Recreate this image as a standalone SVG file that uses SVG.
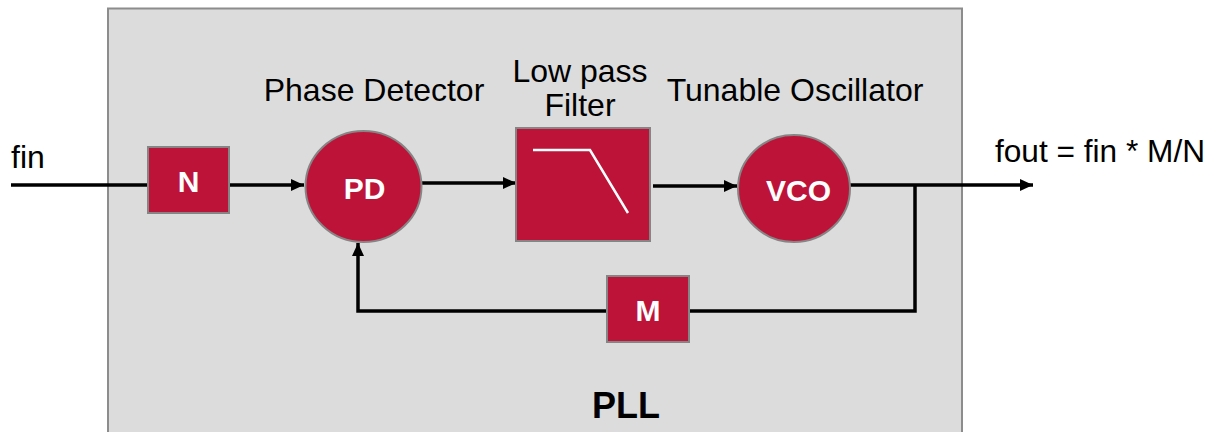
<svg xmlns="http://www.w3.org/2000/svg" width="1209" height="432" viewBox="0 0 1209 432">
<style>
.blk{fill:#be1338;stroke:#858585;stroke-width:2}
.lbl{font-family:"Liberation Sans",Arial,sans-serif;font-size:32px;fill:#000}
.in{font-family:"Liberation Sans",Arial,sans-serif;font-size:30px;font-weight:bold;fill:#fff;text-anchor:middle}
.wire{fill:none;stroke:#000;stroke-width:3.5}
</style>
<defs>
<marker id="ah" markerUnits="userSpaceOnUse" markerWidth="14" markerHeight="12" refX="13" refY="6" orient="auto">
<path d="M0,0 L13,6 L0,12 Z" fill="#000"/>
</marker>
</defs>
<rect id="pll-box" x="108" y="8.5" width="854" height="440" fill="#dcdcdc" stroke="#8c8c8c" stroke-width="2"/>
<text class="lbl" x="11" y="168">fin</text>
<text class="lbl" x="995" y="162" textLength="210" lengthAdjust="spacingAndGlyphs">fout = fin * M/N</text>
<text class="lbl" x="374" y="101" text-anchor="middle">Phase Detector</text>
<text class="lbl" x="580" y="82" text-anchor="middle">Low pass</text>
<text class="lbl" x="580" y="116" text-anchor="middle">Filter</text>
<text class="lbl" x="795" y="101" text-anchor="middle">Tunable Oscillator</text>
<text x="626" y="418" text-anchor="middle" style="font-family:'Liberation Sans',Arial,sans-serif;font-size:36px;font-weight:bold">PLL</text>
<g id="connectors">
<path class="wire" d="M11,185 H148"/>
<path class="wire" d="M229,185 H304" marker-end="url(#ah)"/>
<path class="wire" d="M422,183 H516" marker-end="url(#ah)"/>
<path class="wire" d="M653,186 H737" marker-end="url(#ah)"/>
<path class="wire" d="M850,185 H1033" marker-end="url(#ah)"/>
<path class="wire" d="M915,185 V311 H689"/>
<path class="wire" d="M607,311 H358 V243" marker-end="url(#ah)"/>
</g>
<g id="node-N">
<rect class="blk" x="148" y="147" width="81" height="66"/>
<text class="in" x="188.5" y="192">N</text>
</g>
<g id="node-PD">
<ellipse class="blk" cx="363.5" cy="186.5" rx="58" ry="55.5"/>
<text class="in" x="364.5" y="199">PD</text>
</g>
<g id="node-LPF">
<rect class="blk" x="516" y="128" width="134" height="113"/>
<path d="M533,150 H590 L628,213" fill="none" stroke="#fff" stroke-width="2.5"/>
</g>
<g id="node-VCO">
<ellipse class="blk" cx="794" cy="188.5" rx="56" ry="53.5"/>
<text class="in" x="798.5" y="201">VCO</text>
</g>
<g id="node-M">
<rect class="blk" x="607" y="276" width="82" height="66"/>
<text class="in" x="648" y="321">M</text>
</g>
</svg>
